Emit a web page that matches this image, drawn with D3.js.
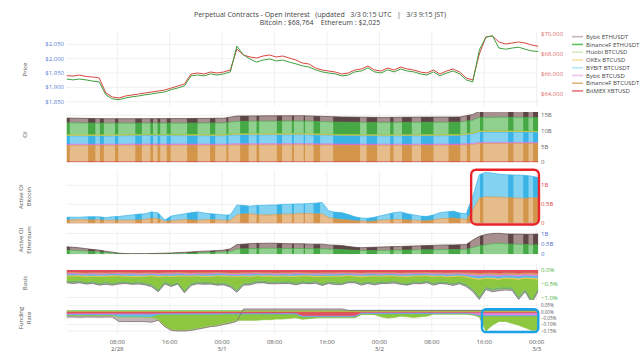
<!DOCTYPE html>
<html><head><meta charset="utf-8">
<script src="https://cdn.jsdelivr.net/npm/d3@7/dist/d3.min.js"></script>
<style>
body{margin:0;background:#fff}
svg{font-family:"Open Sans",sans-serif}
text{white-space:pre}
</style>
</head><body>
<svg id="chart" width="640" height="360"></svg>
<script>
// ---------------- DATA ----------------
const startUTC = "2026-02-28T00:15:00Z";   // first sample, hourly samples, 73 points
const seriesNames = ["BitMEX XBTUSD","BinanceF BTCUSDT","Bybit BTCUSD","BYBIT BTCUSDT","OKEx BTCUSD","Huobi BTCUSD","BinanceF ETHUSDT","Bybit ETHUSDT"];
const legendOrder = ["Bybit ETHUSDT","BinanceF ETHUSDT","Huobi BTCUSD","OKEx BTCUSD","BYBIT BTCUSDT","Bybit BTCUSD","BinanceF BTCUSDT","BitMEX XBTUSD"];

const btcPrice = [
65830,65800,65900,65750,65700,65600,64100,63700,63600,63800,
63900,64000,64100,64200,64300,64400,64600,64800,65000,66000,
66100,66000,66200,66100,66200,66400,68500,67900,67700,67600,
67800,67900,67700,67800,67600,67400,67100,67000,66600,66400,
66300,66200,66000,66100,66400,66500,66800,66400,66300,66600,
66400,66700,66500,66400,66200,66100,66400,66000,66300,66500,
66200,65600,65400,68000,69700,69800,69200,69000,69100,69200,
69100,68900,68764];
const ethPrice = [
1929,1926,1929,1926,1922,1919,1874,1860,1857,1863,
1867,1870,1874,1877,1881,1884,1892,1898,1905,1940,
1943,1940,1947,1943,1947,1954,2044,2013,1999,1988,
1995,1999,1992,1995,1988,1982,1975,1971,1961,1954,
1950,1947,1940,1943,1954,1957,1968,1954,1950,1961,
1954,1964,1957,1954,1947,1943,1954,1940,1950,1957,
1947,1926,1919,2030,2075,2080,2037,2033,2037,2040,
2033,2027,2025];

// Open interest (billion USD), sampled at these hour offsets
const oiHours = [0,6,12,18,24,26,30,36,42,48,54,60,62,63,66,72];
const oiBitmex      = [0.2,0.2,0.2,0.2,0.2,0.2,0.2,0.2,0.2,0.2,0.2,0.2,0.2,0.2,0.2,0.2];
const oiBinanceBtc  = [5.2,5.2,5.25,5.25,5.2,5.35,5.35,5.4,5.25,5.2,5.2,5.25,5.45,5.8,5.8,5.8];
const oiBybitBtc    = [0.35,0.35,0.35,0.35,0.35,0.35,0.35,0.35,0.35,0.35,0.35,0.35,0.35,0.35,0.35,0.35];
const oiBybitBtcusdt= [2.65,2.65,2.75,2.7,2.7,2.85,2.85,2.85,2.7,2.7,2.7,2.7,3.0,3.3,3.3,3.2];
const oiOkex        = [0.25,0.25,0.25,0.25,0.25,0.25,0.25,0.25,0.25,0.25,0.25,0.25,0.25,0.25,0.25,0.25];
const oiHuobi       = [0.1,0.1,0.1,0.1,0.1,0.1,0.1,0.1,0.1,0.1,0.1,0.1,0.1,0.1,0.1,0.1];
const oiBinanceEth  = [3.85,3.7,3.6,3.65,3.75,3.95,4.0,4.0,3.95,3.9,3.95,3.95,4.1,4.3,4.35,4.35];
const oiBybitEth    = [1.5,1.45,1.4,1.45,1.5,1.7,1.7,1.7,1.65,1.6,1.65,1.65,1.8,1.95,2.0,2.0];

// Active OI Bitcoin (billion USD), hourly
const actBinanceBtc = [
0.09,0.09,0.10,0.09,0.09,0.09,0.08,0.08,0.08,0.08,
0.08,0.09,0.10,0.13,0.12,0.05,0.07,0.08,0.10,0.09,
0.08,0.09,0.10,0.09,0.08,0.08,0.22,0.25,0.25,0.23,
0.22,0.22,0.23,0.24,0.24,0.25,0.26,0.26,0.25,0.25,
0.15,0.12,0.10,0.09,0.07,0.06,0.05,0.06,0.08,0.09,
0.10,0.10,0.09,0.08,0.07,0.07,0.09,0.12,0.13,0.14,
0.12,0.10,0.35,0.66,0.70,0.69,0.69,0.68,0.67,0.66,
0.66,0.67,0.67];
const actBybitBtcusdt = [
0.07,0.07,0.06,0.08,0.08,0.08,0.07,0.09,0.10,0.12,
0.14,0.15,0.15,0.17,0.15,0.04,0.12,0.14,0.15,0.19,
0.22,0.18,0.15,0.15,0.14,0.14,0.26,0.22,0.20,0.24,
0.25,0.26,0.25,0.26,0.26,0.26,0.25,0.26,0.28,0.30,
0.18,0.17,0.18,0.14,0.10,0.08,0.08,0.10,0.12,0.15,
0.18,0.20,0.16,0.14,0.12,0.11,0.13,0.16,0.17,0.18,
0.15,0.15,0.35,0.62,0.64,0.63,0.60,0.60,0.60,0.61,
0.60,0.57,0.53];
const actBybitBtc = Array(73).fill(0);
const actOkex = Array(73).fill(0);

// Active OI Ethereum (billion USD), hourly
const actBinanceEth = [
0.19,0.18,0.16,0.14,0.12,0.10,0.07,0.05,0.02,0.01,
0.00,0.00,0.00,0.01,0.01,0.02,0.02,0.03,0.04,0.05,
0.06,0.07,0.08,0.09,0.10,0.13,0.24,0.25,0.26,0.27,
0.28,0.28,0.28,0.27,0.27,0.27,0.27,0.26,0.26,0.26,
0.24,0.23,0.22,0.20,0.18,0.17,0.17,0.17,0.18,0.18,
0.19,0.19,0.20,0.20,0.21,0.21,0.21,0.22,0.22,0.22,
0.22,0.23,0.32,0.40,0.45,0.50,0.52,0.50,0.48,0.47,
0.46,0.45,0.45];
const actBybitEth = [
0.16,0.15,0.14,0.12,0.10,0.09,0.06,0.04,0.02,0.01,
0.01,0.01,0.01,0.01,0.02,0.02,0.03,0.04,0.04,0.05,
0.06,0.07,0.07,0.08,0.09,0.12,0.22,0.23,0.24,0.25,
0.24,0.25,0.24,0.24,0.23,0.23,0.23,0.22,0.22,0.22,
0.20,0.20,0.19,0.17,0.15,0.14,0.15,0.16,0.16,0.17,
0.17,0.18,0.18,0.19,0.19,0.20,0.21,0.21,0.22,0.22,
0.23,0.23,0.36,0.46,0.50,0.50,0.49,0.48,0.49,0.50,
0.50,0.51,0.52];

// Basis (%), hourly
const basisBitmex = [
-0.08,-0.07,-0.08,-0.09,-0.08,-0.08,-0.09,-0.08,-0.07,-0.08,
-0.08,-0.09,-0.08,-0.08,-0.09,-0.08,-0.08,-0.07,-0.08,-0.09,
-0.08,-0.08,-0.08,-0.07,-0.08,-0.09,-0.09,-0.08,-0.08,-0.07,
-0.08,-0.08,-0.09,-0.08,-0.08,-0.07,-0.08,-0.08,-0.09,-0.08,
-0.08,-0.08,-0.07,-0.08,-0.08,-0.09,-0.08,-0.08,-0.07,-0.08,
-0.08,-0.09,-0.08,-0.08,-0.08,-0.07,-0.08,-0.08,-0.09,-0.08,
-0.08,-0.09,-0.10,-0.11,-0.10,-0.10,-0.11,-0.10,-0.10,-0.11,
-0.10,-0.10,-0.11];
const basisBinanceBtc = [
-0.03,-0.03,-0.04,-0.03,-0.03,-0.04,-0.03,-0.03,-0.03,-0.04,
-0.03,-0.03,-0.04,-0.03,-0.04,-0.03,-0.03,-0.03,-0.04,-0.03,
-0.03,-0.04,-0.03,-0.03,-0.03,-0.04,-0.04,-0.03,-0.03,-0.03,
-0.04,-0.03,-0.03,-0.03,-0.04,-0.03,-0.03,-0.04,-0.03,-0.03,
-0.03,-0.04,-0.03,-0.03,-0.03,-0.04,-0.03,-0.03,-0.04,-0.03,
-0.03,-0.03,-0.04,-0.03,-0.03,-0.03,-0.04,-0.03,-0.03,-0.04,
-0.03,-0.04,-0.05,-0.05,-0.04,-0.05,-0.05,-0.04,-0.05,-0.05,
-0.04,-0.05,-0.05];
const basisBybitBtc = [
-0.03,-0.04,-0.03,-0.03,-0.03,-0.04,-0.03,-0.03,-0.04,-0.03,
-0.03,-0.04,-0.03,-0.03,-0.03,-0.03,-0.04,-0.03,-0.03,-0.04,
-0.03,-0.03,-0.04,-0.03,-0.03,-0.03,-0.04,-0.03,-0.04,-0.03,
-0.03,-0.03,-0.04,-0.03,-0.03,-0.04,-0.03,-0.03,-0.03,-0.04,
-0.03,-0.03,-0.04,-0.03,-0.04,-0.03,-0.03,-0.03,-0.04,-0.03,
-0.03,-0.04,-0.03,-0.03,-0.03,-0.04,-0.03,-0.03,-0.04,-0.03,
-0.03,-0.04,-0.05,-0.06,-0.05,-0.05,-0.06,-0.05,-0.05,-0.06,
-0.05,-0.05,-0.06];
const basisBybitBtcusdt = [
-0.05,-0.05,-0.04,-0.05,-0.06,-0.05,-0.05,-0.04,-0.05,-0.05,
-0.06,-0.05,-0.05,-0.04,-0.05,-0.05,-0.06,-0.05,-0.05,-0.04,
-0.05,-0.05,-0.06,-0.05,-0.05,-0.04,-0.05,-0.05,-0.06,-0.05,
-0.05,-0.04,-0.05,-0.05,-0.06,-0.05,-0.05,-0.04,-0.05,-0.05,
-0.06,-0.05,-0.05,-0.04,-0.05,-0.05,-0.06,-0.05,-0.05,-0.04,
-0.05,-0.05,-0.06,-0.05,-0.05,-0.04,-0.05,-0.05,-0.06,-0.05,
-0.05,-0.05,-0.07,-0.08,-0.07,-0.07,-0.08,-0.07,-0.07,-0.08,
-0.07,-0.07,-0.08];
const basisOkex = [
-0.03,-0.03,-0.03,-0.04,-0.03,-0.03,-0.03,-0.04,-0.03,-0.03,
-0.04,-0.03,-0.03,-0.03,-0.04,-0.03,-0.03,-0.04,-0.03,-0.03,
-0.03,-0.04,-0.03,-0.03,-0.04,-0.03,-0.03,-0.03,-0.04,-0.03,
-0.03,-0.04,-0.03,-0.03,-0.03,-0.04,-0.03,-0.03,-0.04,-0.03,
-0.03,-0.03,-0.04,-0.03,-0.03,-0.04,-0.03,-0.03,-0.03,-0.04,
-0.03,-0.03,-0.04,-0.03,-0.03,-0.03,-0.04,-0.03,-0.03,-0.04,
-0.03,-0.03,-0.04,-0.04,-0.04,-0.05,-0.04,-0.04,-0.05,-0.04,
-0.04,-0.05,-0.04];
const basisHuobi = [
-0.16,-0.18,-0.15,-0.20,-0.17,-0.22,-0.19,-0.25,-0.20,-0.17,
-0.21,-0.18,-0.22,-0.30,-0.45,-0.20,-0.28,-0.22,-0.50,-0.25,
-0.20,-0.18,-0.20,-0.26,-0.22,-0.30,-0.45,-0.25,-0.20,-0.18,
-0.15,-0.20,-0.17,-0.19,-0.16,-0.22,-0.18,-0.20,-0.15,-0.25,
-0.18,-0.20,-0.22,-0.17,-0.16,-0.20,-0.18,-0.23,-0.17,-0.19,
-0.16,-0.20,-0.22,-0.18,-0.20,-0.17,-0.21,-0.19,-0.18,-0.22,
-0.20,-0.25,-0.35,-0.60,-0.30,-0.35,-0.28,-0.32,-0.30,-0.60,
-0.38,-0.75,-0.30];
const basisBinanceEth = [
-0.04,-0.04,-0.05,-0.04,-0.04,-0.05,-0.04,-0.04,-0.04,-0.05,
-0.04,-0.04,-0.05,-0.04,-0.05,-0.04,-0.04,-0.04,-0.05,-0.04,
-0.04,-0.05,-0.04,-0.04,-0.04,-0.05,-0.05,-0.04,-0.04,-0.04,
-0.05,-0.04,-0.04,-0.04,-0.05,-0.04,-0.04,-0.05,-0.04,-0.04,
-0.04,-0.05,-0.04,-0.04,-0.04,-0.05,-0.04,-0.04,-0.05,-0.04,
-0.04,-0.04,-0.05,-0.04,-0.04,-0.04,-0.05,-0.04,-0.04,-0.05,
-0.04,-0.05,-0.06,-0.06,-0.05,-0.06,-0.06,-0.05,-0.06,-0.06,
-0.05,-0.06,-0.06];
const basisBybitEth = [
-0.04,-0.05,-0.04,-0.03,-0.05,-0.04,-0.06,-0.04,-0.05,-0.04,
-0.03,-0.05,-0.04,-0.06,-0.04,-0.05,-0.04,-0.03,-0.05,-0.04,
-0.04,-0.05,-0.03,-0.04,-0.05,-0.04,-0.06,-0.04,-0.05,-0.04,
-0.03,-0.04,-0.05,-0.04,-0.04,-0.05,-0.04,-0.03,-0.05,-0.04,
-0.04,-0.05,-0.04,-0.04,-0.03,-0.05,-0.04,-0.05,-0.04,-0.04,
-0.05,-0.04,-0.03,-0.05,-0.04,-0.04,-0.05,-0.04,-0.04,-0.05,
-0.04,-0.05,-0.06,-0.07,-0.06,-0.06,-0.07,-0.06,-0.06,-0.07,
-0.06,-0.07,-0.06];

// Funding rate (%), hourly
const fundBitmex = [
-0.010,-0.010,-0.010,-0.010,-0.010,-0.010,-0.010,-0.010,-0.012,-0.012,
-0.012,-0.012,-0.012,-0.012,-0.010,-0.010,-0.010,-0.010,-0.010,-0.010,
-0.010,-0.010,-0.010,-0.010,-0.008,-0.008,-0.008,-0.008,-0.008,-0.008,
-0.008,-0.008,-0.008,-0.008,-0.008,-0.008,-0.028,-0.028,-0.028,-0.028,
-0.028,-0.028,-0.028,-0.028,-0.028,-0.005,-0.005,-0.005,-0.005,-0.005,
-0.005,-0.005,-0.005,-0.005,-0.005,-0.005,-0.005,-0.005,-0.005,-0.005,
-0.005,-0.005,-0.005,-0.005,-0.006,-0.006,-0.006,-0.006,-0.006,-0.006,
-0.006,-0.006,-0.006];
const fundBinanceBtc = [
0.003,0.003,0.003,0.003,0.003,0.003,0.003,0.003,0.003,0.003,
0.003,0.003,0.003,0.003,0.003,0.003,0.003,0.003,0.003,0.003,
0.003,0.003,0.003,0.003,0.003,0.003,0.003,0.003,0.003,0.003,
0.003,0.003,0.003,0.003,0.003,0.003,0.003,0.003,0.003,0.003,
0.003,0.003,0.003,0.003,0.003,0.003,0.003,0.003,0.003,0.003,
0.003,0.003,0.003,0.003,0.003,0.003,0.003,0.003,0.003,0.003,
0.003,0.003,0.003,0.003,0.003,0.003,0.003,0.003,0.003,0.003,
0.003,0.003,0.003];
const fundBybitBtc = [
-0.008,-0.008,-0.008,-0.008,-0.008,-0.008,-0.008,-0.008,-0.004,-0.004,
-0.004,-0.004,-0.004,-0.004,-0.004,-0.004,-0.004,-0.004,-0.004,-0.004,
-0.004,-0.004,-0.004,-0.004,-0.004,-0.004,-0.004,-0.004,-0.004,-0.004,
-0.004,-0.004,-0.004,-0.004,-0.004,-0.004,-0.006,-0.006,-0.006,-0.006,
-0.006,-0.006,-0.006,-0.006,-0.006,-0.004,-0.004,-0.004,-0.004,-0.004,
-0.004,-0.004,-0.004,-0.004,-0.004,-0.004,-0.004,-0.004,-0.004,-0.004,
-0.004,-0.004,-0.010,-0.020,-0.020,-0.020,-0.020,-0.020,-0.020,-0.020,
-0.020,-0.020,-0.020];
const fundBybitBtcusdt = [
-0.005,-0.005,-0.005,-0.005,-0.005,-0.005,-0.005,-0.005,-0.020,-0.020,
-0.020,-0.020,-0.020,-0.020,-0.004,-0.004,-0.004,-0.004,-0.004,-0.004,
-0.004,-0.004,-0.004,-0.004,-0.004,-0.004,-0.004,-0.004,-0.004,-0.004,
-0.004,-0.004,-0.004,-0.004,-0.004,-0.004,-0.004,-0.004,-0.004,-0.004,
-0.004,-0.004,-0.004,-0.004,-0.004,-0.004,-0.004,-0.004,-0.004,-0.004,
-0.004,-0.004,-0.004,-0.004,-0.004,-0.004,-0.004,-0.004,-0.004,-0.004,
-0.004,-0.004,-0.004,-0.004,-0.004,-0.004,-0.004,-0.004,-0.004,-0.004,
-0.004,-0.004,-0.004];
const fundOkex = [
0.002,0.002,0.002,0.002,0.002,0.002,0.002,0.002,0.002,0.002,
0.002,0.002,0.002,0.002,0.002,0.002,0.002,0.002,0.002,0.002,
0.002,0.002,0.002,0.002,0.002,0.002,0.002,0.002,0.002,0.002,
0.002,0.002,0.002,0.002,0.002,0.002,0.002,0.002,0.002,0.002,
0.002,0.002,0.002,0.002,0.002,0.002,0.002,0.002,0.002,0.002,
0.002,0.002,0.002,0.002,0.002,0.002,0.002,0.002,0.002,0.002,
0.002,0.002,0.002,0.002,0.002,0.002,0.002,0.002,0.002,0.002,
0.002,0.002,0.002];
const fundHuobi = [
-0.005,-0.005,-0.006,-0.005,-0.005,-0.006,-0.005,-0.005,-0.005,-0.005,
-0.005,-0.005,-0.006,-0.010,-0.040,-0.090,-0.120,-0.125,-0.125,-0.120,
-0.110,-0.100,-0.090,-0.085,-0.075,-0.065,-0.050,-0.050,-0.050,-0.050,
-0.045,-0.045,-0.040,-0.040,-0.035,-0.030,-0.020,-0.015,-0.010,-0.008,
-0.008,-0.008,-0.008,-0.008,-0.008,-0.008,-0.008,-0.008,-0.025,-0.035,
-0.030,-0.020,-0.025,-0.030,-0.025,-0.020,-0.005,-0.005,-0.005,-0.005,
-0.005,-0.005,-0.005,-0.010,-0.120,-0.075,-0.045,-0.045,-0.060,-0.075,
-0.095,-0.115,-0.115];
const fundBinanceEth = [
0.004,0.004,0.004,0.004,0.004,0.004,0.004,0.004,0.004,0.004,
0.004,0.004,0.004,0.004,0.004,0.004,0.004,0.004,0.004,0.004,
0.004,0.004,0.004,0.004,0.004,0.004,0.004,0.004,0.004,0.004,
0.004,0.004,0.004,0.004,0.004,0.004,0.004,0.004,0.004,0.004,
0.004,0.004,0.004,0.004,0.004,0.004,0.004,0.004,0.004,0.004,
0.004,0.004,0.004,0.004,0.004,0.004,0.004,0.004,0.004,0.004,
0.004,0.004,0.004,0.004,0.004,0.004,0.004,0.004,0.004,0.004,
0.004,0.004,0.004];
const fundBybitEth = [
-0.012,-0.012,-0.012,-0.012,-0.012,-0.012,-0.012,-0.012,-0.035,-0.035,
-0.035,-0.035,-0.035,-0.035,-0.008,-0.008,-0.008,-0.008,-0.008,-0.008,
-0.008,-0.008,-0.008,-0.008,-0.008,-0.008,-0.008,0.015,0.015,0.015,
0.015,0.015,0.015,0.015,0.015,0.015,0.015,0.015,0.015,0.015,
0.015,0.015,0.015,0.004,0.004,0.004,0.004,0.004,0.004,0.004,
0.004,0.004,0.004,0.004,0.004,0.004,0.004,0.004,0.004,0.004,
0.004,0.004,0.004,0.004,0.004,0.004,0.004,0.004,0.004,0.004,
0.004,0.004,0.004];

// Hour ranges where the stacked OI fills render darker
const darkBands = [[0.0,0.5],[3.3,4.4],[5.1,5.7],[7.4,7.9],[10.5,11.5],[12.8,13.2],[13.9,14.3],[15.3,15.9],
[18.4,20.0],[21.9,22.7],[24.4,24.7],[26.5,27.8],[29.0,29.4],[32.1,32.9],[34.4,34.7],[36.2,36.4],[37.7,38.7],
[40.7,44.8],[45.8,47.4],[49.4,49.9],[51.2,52.7],[54.1,56.0],[58.3,60.1],[61.1,61.6],[63.1,63.6],[67.4,68.2],[69.7,70.5],[71.2,72.0]];

// Tick values
const ethTicks = [1850,1900,1950,2000,2050];
const btcTicks = [64000,66000,68000,70000];
const oiTicks = [0,5,10,15];
const activeTicks = [0,0.5,1];
const basisTicks = [0,-0.5,-1.0];
const fundTicks = [0.05,0,-0.05,-0.10,-0.15];

// Annotation boxes (hour range, value range in the panel's units)
const redBox = {h0:61.75, h1:72.1, v0:-0.03, v1:1.41};
const blueBox = {h0:63.4, h1:72.0, v0:-0.158, v1:0.022};

// ---------------- STYLE ----------------
const darkC = {"BitMEX XBTUSD":"#d6404a","BinanceF BTCUSDT":"#d3954a","Bybit BTCUSD":"#d86ad8","BYBIT BTCUSDT":"#3ab3e6",
  "OKEx BTCUSD":"#f2c03c","Huobi BTCUSD":"#8dc63f","BinanceF ETHUSDT":"#45a845","Bybit ETHUSDT":"#5e4646"};
const lightC = {"BitMEX XBTUSD":"#e98a8e","BinanceF BTCUSDT":"#e6bc8a","Bybit BTCUSD":"#eaa6ea","BYBIT BTCUSDT":"#84d2f2",
  "OKEx BTCUSD":"#f7d986","Huobi BTCUSD":"#c3e095","BinanceF ETHUSDT":"#8fd08f","Bybit ETHUSDT":"#a78f8f"};
const solidC = {"BitMEX XBTUSD":"#e0525a","BinanceF BTCUSDT":"#e4a868","Bybit BTCUSD":"#e08ae0","BYBIT BTCUSDT":"#62c2ec",
  "OKEx BTCUSD":"#f5d068","Huobi BTCUSD":"#8dc63f","BinanceF ETHUSDT":"#6dbf6d","Bybit ETHUSDT":"#c2b4b4"};
const edgeC = {"BitMEX XBTUSD":"#d6404a","BinanceF BTCUSDT":"#d3954a","Bybit BTCUSD":"#d86ad8","BYBIT BTCUSDT":"#3ab3e6",
  "OKEx BTCUSD":"#f2c03c","Huobi BTCUSD":"#8dc63f","BinanceF ETHUSDT":"#45a845","Bybit ETHUSDT":"#6e6262"};
const legendC = {"Bybit ETHUSDT":"#c9b6b6","BinanceF ETHUSDT":"#5fbf5f","Huobi BTCUSD":"#d6ebbd","OKEx BTCUSD":"#f9e1a2",
  "BYBIT BTCUSDT":"#b3e6f7","Bybit BTCUSD":"#f0c2f0","BinanceF BTCUSDT":"#e5b380","BitMEX XBTUSD":"#e8737a"};

// ---------------- DRAW ----------------
const svg = d3.select("#chart");
const HOUR = 3600e3;
const t0 = new Date(startUTC).getTime();
const hourly = d3.range(73);
const toDate = h => new Date(t0 + h*HOUR);
const x = d3.scaleUtc().domain([toDate(0), toDate(72)]).range([66.5, 538.3]);
const xL = 66.5, xR = 538.3;
function tx(h){ return x(toDate(h)); }

const panels = {
  price:{top:32,bottom:106},
  oi:{top:112,bottom:162.3},
  ab:{top:170,bottom:223.3},
  ae:{top:230,bottom:254},
  basis:{top:263,bottom:300},
  fund:{top:303,bottom:334}
};
const yEth = d3.scaleLinear().domain([1835,2093]).range([106,32]);
const yBtc = d3.scaleLinear().domain([62800,70200]).range([106,32]);
const yOI = d3.scaleLinear().domain([0,16]).range([162.3,112.1]);
const yAB = d3.scaleLinear().domain([0,1.4]).range([223.3,170.1]);
const yAE = d3.scaleLinear().domain([0,1.17]).range([254,230]);
const yBasis = d3.scaleLinear().domain([-1.09,0.22]).range([300,264]);
const yFund = d3.scaleLinear().domain([-0.174,0.071]).range([334,303]);

const grid = svg.append("g");
const xTicks = x.ticks(d3.utcHour.every(8));
Object.values(panels).forEach(p=>{
  grid.selectAll(null).data(xTicks).join("line")
    .attr("x1",d=>x(d)).attr("x2",d=>x(d)).attr("y1",p.top).attr("y2",p.bottom)
    .attr("stroke","#ececec").attr("stroke-width",0.8);
});
function hgrid(scale, ticks){
  grid.selectAll(null).data(ticks).join("line")
    .attr("x1",xL).attr("x2",xR).attr("y1",d=>scale(d)).attr("y2",d=>scale(d))
    .attr("stroke","#ececec").attr("stroke-width",0.8);
}
hgrid(yEth, ethTicks); hgrid(yOI, oiTicks); hgrid(yAB, activeTicks); hgrid(yAE, activeTicks);
hgrid(yBasis, basisTicks); hgrid(yFund, fundTicks);

const defs = svg.append("defs");
defs.append("clipPath").attr("id","stripes").selectAll("rect").data(darkBands).join("rect")
  .attr("x",d=>tx(d[0])).attr("width",d=>Math.max(0.6,tx(d[1])-tx(d[0]))).attr("y",0).attr("height",360);
Object.entries(panels).forEach(([k,p])=>{
  defs.append("clipPath").attr("id","clip-"+k).append("rect")
    .attr("x",xL).attr("y",p.top).attr("width",xR-xL).attr("height",p.bottom-p.top);
});

function stacked(panelKey, hours, dataMap, y, mode){
  const keys = Object.keys(dataMap);
  const rows = hours.map((h,i)=>{ const r={h}; keys.forEach(k=>r[k]=dataMap[k][i]); return r; });
  const st = d3.stack().keys(keys).offset(d3.stackOffsetDiverging)(rows);
  const area = d3.area().x(d=>tx(d.data.h)).y0(d=>y(d[0])).y1(d=>y(d[1]));
  const g = svg.append("g").attr("clip-path","url(#clip-"+panelKey+")");
  if(mode==="striped"){
    g.selectAll(null).data(st).join("path").attr("d",area).attr("fill",d=>lightC[d.key]);
    const gd = g.append("g").attr("clip-path","url(#stripes)");
    gd.selectAll(null).data(st).join("path").attr("d",area).attr("fill",d=>darkC[d.key]);
  } else {
    g.selectAll(null).data(st).join("path").attr("d",area).attr("fill",d=>solidC[d.key]);
  }
  g.selectAll(null).data(st).join("path")
    .attr("d",s=>d3.line().x(d=>tx(d.data.h)).y(d=> d.data[s.key]<0 ? y(d[0]) : y(d[1]))(s))
    .attr("fill","none").attr("stroke",d=>mode==="striped"?darkC[d.key]:edgeC[d.key]).attr("stroke-width",0.7);
}

stacked("oi", oiHours, {
  "BitMEX XBTUSD":oiBitmex,"BinanceF BTCUSDT":oiBinanceBtc,"Bybit BTCUSD":oiBybitBtc,"BYBIT BTCUSDT":oiBybitBtcusdt,
  "OKEx BTCUSD":oiOkex,"Huobi BTCUSD":oiHuobi,"BinanceF ETHUSDT":oiBinanceEth,"Bybit ETHUSDT":oiBybitEth}, yOI, "striped");
stacked("ab", hourly, {"BinanceF BTCUSDT":actBinanceBtc,"Bybit BTCUSD":actBybitBtc,"BYBIT BTCUSDT":actBybitBtcusdt,"OKEx BTCUSD":actOkex}, yAB, "striped");
stacked("ae", hourly, {"BinanceF ETHUSDT":actBinanceEth,"Bybit ETHUSDT":actBybitEth}, yAE, "striped");
stacked("basis", hourly, {
  "BitMEX XBTUSD":basisBitmex,"BinanceF BTCUSDT":basisBinanceBtc,"Bybit BTCUSD":basisBybitBtc,"BYBIT BTCUSDT":basisBybitBtcusdt,
  "OKEx BTCUSD":basisOkex,"Huobi BTCUSD":basisHuobi,"BinanceF ETHUSDT":basisBinanceEth,"Bybit ETHUSDT":basisBybitEth}, yBasis, "solid");
stacked("fund", hourly, {
  "BitMEX XBTUSD":fundBitmex,"BinanceF BTCUSDT":fundBinanceBtc,"Bybit BTCUSD":fundBybitBtc,"BYBIT BTCUSDT":fundBybitBtcusdt,
  "OKEx BTCUSD":fundOkex,"Huobi BTCUSD":fundHuobi,"BinanceF ETHUSDT":fundBinanceEth,"Bybit ETHUSDT":fundBybitEth}, yFund, "solid");

// Price lines
const gp = svg.append("g").attr("clip-path","url(#clip-price)");
gp.append("path").datum(btcPrice).attr("d",d3.line().x((d,i)=>tx(hourly[i])).y(d=>yBtc(d)))
  .attr("fill","none").attr("stroke","#d7463f").attr("stroke-width",1);
gp.append("path").datum(ethPrice).attr("d",d3.line().x((d,i)=>tx(hourly[i])).y(d=>yEth(d)))
  .attr("fill","none").attr("stroke","#3f9f3f").attr("stroke-width",1);

// Axis tick labels
const fs = 6;
function leftLabels(scale, ticks, fmt, color, size){
  svg.append("g").selectAll("text").data(ticks).join("text")
    .attr("x",64).attr("y",d=>scale(d)).attr("dy","0.35em").attr("text-anchor","end")
    .attr("font-size",size||fs).attr("fill",color).text(fmt);
}
function rightLabels(scale, ticks, fmt, color, size){
  svg.append("g").selectAll("text").data(ticks).join("text")
    .attr("x",541).attr("y",d=>scale(d)).attr("dy","0.35em").attr("text-anchor","start")
    .attr("font-size",size||fs).attr("fill",color).text(fmt);
}
const dollar = d=>"$"+d3.format(",")(d);
const bfmt = d=> d===0?"0":(d+"B");
const minus = s=>s.replace("-","\u2212");
leftLabels(yEth, ethTicks, dollar, "#5b82d4");
rightLabels(yBtc, btcTicks, dollar, "#e06a6a");
rightLabels(yOI, oiTicks, bfmt, "#666");
rightLabels(yAB, activeTicks, bfmt, "#e04646");
rightLabels(yAE, activeTicks, bfmt, "#4a6fd0");
rightLabels(yBasis, basisTicks, d=>minus(d3.format(".1f")(d)+"%"), "#4caf3c");
rightLabels(yFund, fundTicks, d=>minus(d3.format(".2f")(d)+"%"), "#555", 4.5);

// Axis titles
const titles = [
  {lines:["Price"], y:69.5},
  {lines:["OI"], y:134.5},
  {lines:["Active OI","Bitcoin"], y:196.7},
  {lines:["Active OI","Ethereum"], y:240},
  {lines:["Basis"], y:283},
  {lines:["Funding","Rate"], y:318}
];
titles.forEach(t=>{
  const n=t.lines.length;
  t.lines.forEach((ln,i)=>{
    const cx = 25 + (i-(n-1)/2)*8.6;
    svg.append("text").attr("transform",`translate(${cx},${t.y}) rotate(-90)`)
      .attr("text-anchor","middle").attr("dy","0.35em").attr("font-size",fs).attr("fill","#555").text(ln);
  });
});

// X axis labels
const fTime = d3.utcFormat("%H:%M"), fDate = d3.utcFormat("%-m/%-d");
const xg = svg.append("g");
xTicks.forEach((d,i)=>{
  xg.append("text").attr("x",x(d)).attr("y",344).attr("text-anchor","middle").attr("font-size",fs).attr("fill","#555").text(fTime(d));
  if(i===0 || d.getUTCHours()===0)
    xg.append("text").attr("x",x(d)).attr("y",350.8).attr("text-anchor","middle").attr("font-size",fs).attr("fill","#555").text(fDate(d));
});

// Title
svg.append("text").attr("x",320).attr("y",16.5).attr("text-anchor","middle").attr("font-size",7).attr("fill","#444")
  .text("Perpetual Contracts - Open Interest   (updated   3/3 0:15 UTC   |   3/3 9:15 JST)");
svg.append("text").attr("x",320).attr("y",25).attr("text-anchor","middle").attr("font-size",7).attr("fill","#444")
  .text("Bitcoin : $"+d3.format(",")(btcPrice[btcPrice.length-1])+"    Ethereum : $"+d3.format(",")(ethPrice[ethPrice.length-1]));

// Legend
const lg = svg.append("g");
legendOrder.forEach((name,i)=>{
  const yy = 36.7 + i*7.75;
  lg.append("line").attr("x1",572).attr("x2",583).attr("y1",yy).attr("y2",yy).attr("stroke",legendC[name]).attr("stroke-width",1.6);
  lg.append("text").attr("x",586).attr("y",yy).attr("dy","0.35em").attr("font-size",fs).attr("fill","#444").text(name);
});

// Annotation boxes
svg.append("rect").attr("x",tx(redBox.h0)).attr("y",yAB(redBox.v1))
  .attr("width",tx(redBox.h1)-tx(redBox.h0)).attr("height",yAB(redBox.v0)-yAB(redBox.v1))
  .attr("rx",5).attr("fill","none").attr("stroke","#e8242a").attr("stroke-width",2.4);
svg.append("rect").attr("x",tx(blueBox.h0)).attr("y",yFund(blueBox.v1))
  .attr("width",tx(blueBox.h1)-tx(blueBox.h0)).attr("height",yFund(blueBox.v0)-yFund(blueBox.v1))
  .attr("rx",4).attr("fill","none").attr("stroke","#1ea2e6").attr("stroke-width",2.4);
</script>
</body></html>
